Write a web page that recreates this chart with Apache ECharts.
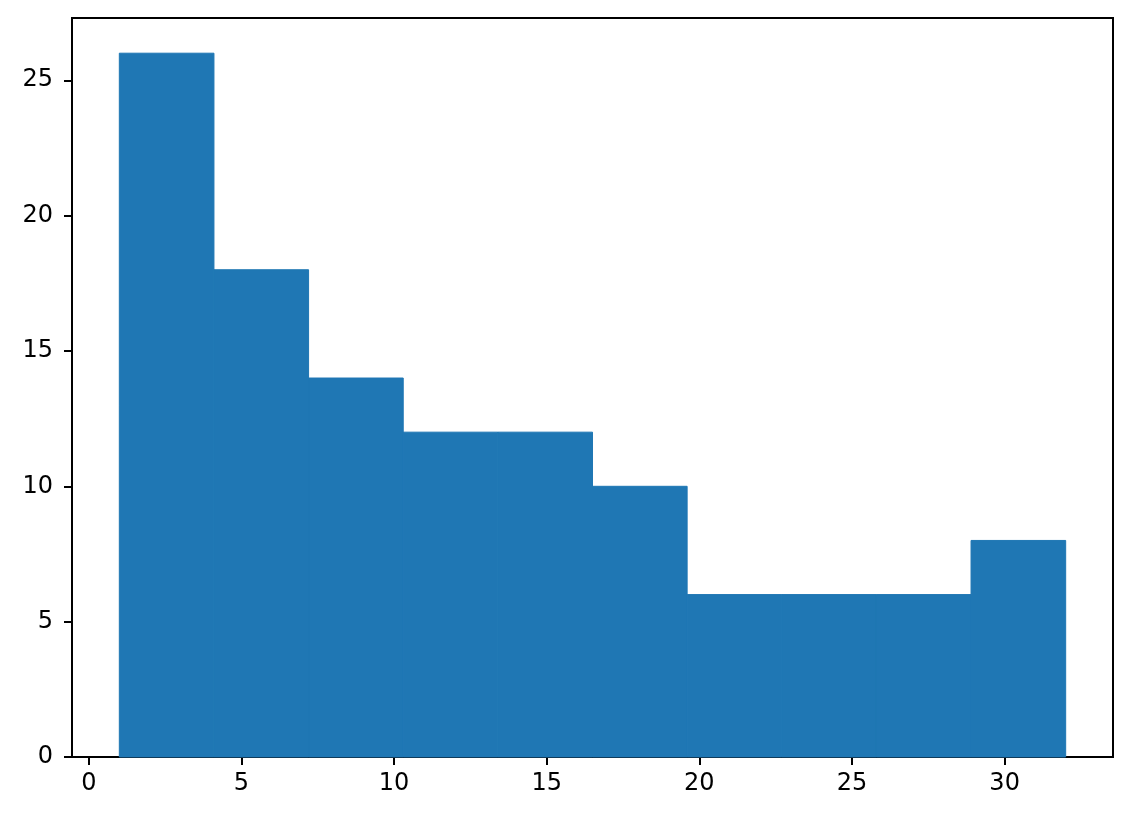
<!DOCTYPE html>
<html>
<head>
<meta charset="utf-8">
<script src="https://cdn.jsdelivr.net/npm/echarts@6/dist/echarts.min.js"></script>
<style>html,body{margin:0;padding:0;background:#fff}#c{width:1132px;height:822px}</style>
</head>
<body>
<div id="c"></div>
<script>
const binEdges = [1, 4.1, 7.2, 10.3, 13.4, 16.5, 19.6, 22.7, 25.8, 28.9, 32];
const counts = [26, 18, 14, 12, 12, 10, 6, 6, 6, 8];
const xTicks = [0, 5, 10, 15, 20, 25, 30];
const yTicks = [0, 5, 10, 15, 20, 25];

const data = counts.map((c, i) => [binEdges[i], binEdges[i + 1], c]);
const chart = echarts.init(document.getElementById('c'), null, {renderer: 'canvas'});
const lineStyle = {color: '#000', width: 2};
chart.setOption({
  animation: false,
  grid: {left: 72, right: 19, top: 18, bottom: 65, show: true, borderColor: '#000', borderWidth: 2},
  xAxis: {
    type: 'value', min: -0.55, max: 33.55,
    axisLine: {show: true, onZero: false, lineStyle: lineStyle},
    axisTick: {show: true, length: 8, customValues: xTicks, lineStyle: lineStyle},
    splitLine: {show: false},
    axisLabel: {customValues: xTicks, color: '#000', fontFamily: 'DejaVu Sans', fontSize: 24, margin: 15},
  },
  yAxis: {
    type: 'value', min: 0, max: 27.3,
    axisLine: {show: true, onZero: false, lineStyle: lineStyle},
    axisTick: {show: true, length: 8, customValues: yTicks, lineStyle: lineStyle},
    splitLine: {show: false},
    axisLabel: {customValues: yTicks, color: '#000', fontFamily: 'DejaVu Sans', fontSize: 24, margin: 19},
  },
  series: [{
    type: 'custom',
    data: data,
    encode: {x: [0, 1], y: 2},
    z: 1,
    renderItem: function (params, api) {
      const p0 = api.coord([api.value(0), api.value(2)]);
      const p1 = api.coord([api.value(1), 0]);
      return {
        type: 'rect',
        shape: {x: p0[0], y: p0[1], width: p1[0] - p0[0], height: p1[1] - p0[1]},
        style: {fill: '#1f77b4', stroke: '#1f77b4', lineWidth: 1}
      };
    }
  }]
});
</script>
</body>
</html>
